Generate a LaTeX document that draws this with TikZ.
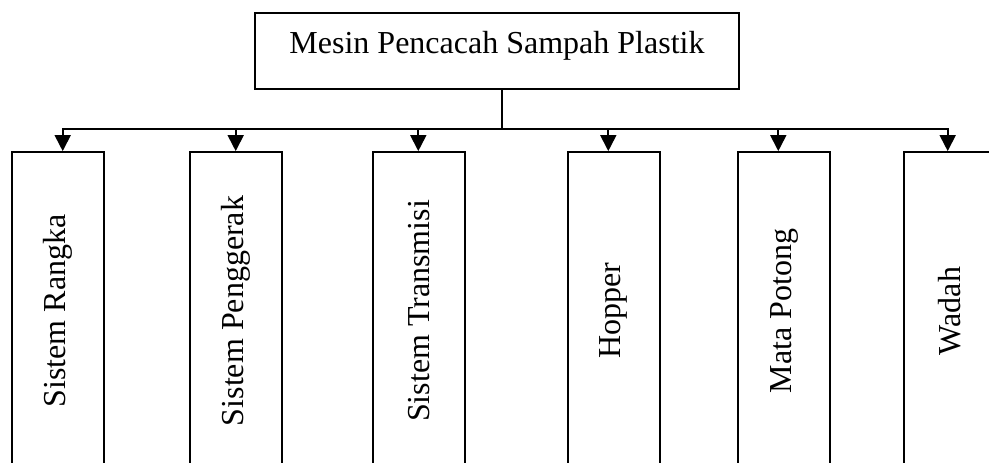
\documentclass[tikz,border=0pt]{standalone}
\usepackage{fontspec}
\setmainfont{Liberation Serif}
\usetikzlibrary{arrows.meta}

\begin{document}
\begin{tikzpicture}[
    x=1pt, y=-1pt,
    font=\fontsize{32}{38}\selectfont,
    line width=1.8pt,
    head/.style={draw, minimum width=484pt, text height=22pt, text depth=18pt, inner ysep=18pt},
    part/.style={draw, minimum width=92pt, minimum height=318pt, inner sep=0pt},
    arr/.style={-{Triangle[length=16pt,width=16pt]}}
]
\useasboundingbox (0,0) rectangle (989,463);
\clip (0,0) rectangle (989,463);

\node[head] (mesin) at (497,51) {Mesin Pencacah Sampah Plastik};

\node[part] (rangka) at (58,311) {\rotatebox{90}{Sistem Rangka}};
\node[part] (penggerak) at (236,311) {\rotatebox{90}{Sistem Penggerak}};
\node[part] (transmisi) at (419.3,311) {\rotatebox{90}{Sistem Transmisi}};
\node[part] (hopper) at (613.7,311) {\rotatebox{90}{Hopper}};
\node[part] (potong) at (784,311) {\rotatebox{90}{Mata Potong}};
\node[part] (wadah) at (950,311) {\rotatebox{90}{Wadah}};

\coordinate (bus) at (0,129);
\foreach \n/\dx in {rangka/4.7,penggerak/-0.3,transmisi/-1,hopper/-5.4,potong/-5.7,wadah/-2.3}
    \coordinate (a-\n) at ([xshift=\dx pt]\n.north);

\draw ([xshift=4.7pt]mesin.south) -- ([xshift=4.7pt]mesin.south |- bus);
\draw[line cap=rect] (a-rangka |- bus) -- (a-wadah |- bus);
\foreach \n in {rangka,penggerak,transmisi,hopper,potong,wadah}
    \draw[arr] (a-\n |- bus) -- (a-\n);
\end{tikzpicture}
\end{document}
